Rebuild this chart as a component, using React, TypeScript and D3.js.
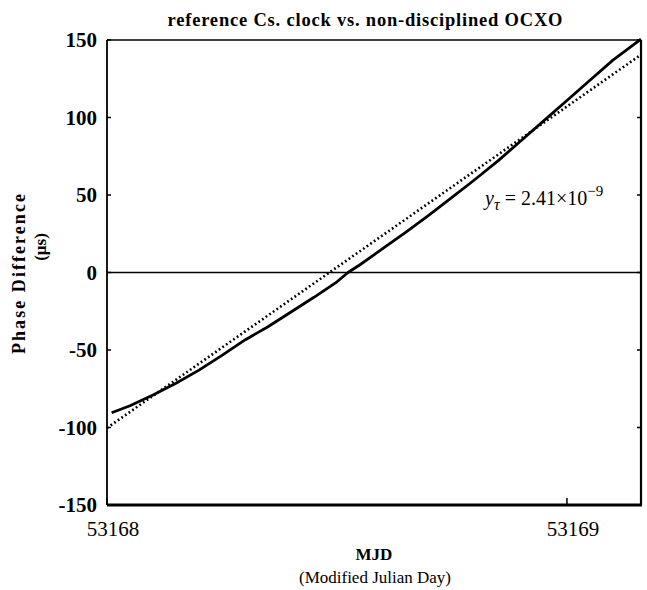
import React from "react";
import * as d3 from "d3";

// Solid curve: phase difference (µs) vs MJD offset (days from 53168)
const phaseT = [0.01, 0.05, 0.1, 0.15, 0.2, 0.25, 0.3, 0.35, 0.4, 0.45, 0.5, 0.524, 0.55, 0.6, 0.65, 0.7, 0.75, 0.8, 0.85, 0.9, 0.95, 1.0, 1.05, 1.1, 1.161];
const phaseVals = [-90.5, -86, -79, -71.5, -63, -53.5, -43.5, -35, -25.5, -16, -6, 0, 5, 15.5, 26, 37, 48.5, 60, 72, 85, 98, 111, 124, 137, 150.5];

// Dotted linear fit endpoints
const fitT = [0, 1.161];
const fitVals = [-100.3, 140.5];

const yTicks = [-150, -100, -50, 0, 50, 100, 150];
const xTicks = [53168, 53169];
const MJD0 = 53168;

export default function App() {
  const x = d3.scaleLinear().domain([53168, 53169.161]).range([107, 641]);
  const y = d3.scaleLinear().domain([-150, 150]).range([505, 40]);

  const line = d3
    .line<[number, number]>()
    .x((d) => x(MJD0 + d[0]))
    .y((d) => y(d[1]));

  const phaseData: [number, number][] = phaseT.map((t, i) => [t, phaseVals[i]]);
  const fitData: [number, number][] = fitT.map((t, i) => [t, fitVals[i]]);

  const serif = "'Liberation Serif', 'Times New Roman', serif";
  const [x0, x1] = x.range();
  const [yb, yt] = y.range();

  return (
    <svg width={647} height={590} style={{ display: "block", position: "absolute", left: 0, top: 0, background: "#fff" }} fontFamily={serif}>
      <rect x={0} y={0} width={647} height={590} fill="#fff" />
      {/* title */}
      <text x={365} y={26} textAnchor="middle" fontSize={18.5} fontWeight="bold" textLength={395} lengthAdjust="spacing">
        reference Cs. clock  vs.  non-disciplined OCXO
      </text>

      {/* zero line */}
      <line x1={x0} x2={x1} y1={y(0)} y2={y(0)} stroke="#000" strokeWidth={1.6} />

      {/* frame */}
      <line x1={x0} x2={x1} y1={yt} y2={yt} stroke="#000" strokeWidth={1.6} />
      <line x1={x0} x2={x0} y1={yt} y2={yb} stroke="#000" strokeWidth={1.8} />
      <line x1={x1} x2={x1} y1={yt} y2={yb} stroke="#000" strokeWidth={2.2} />
      <line x1={x0} x2={x1 + 1} y1={yb} y2={yb} stroke="#000" strokeWidth={3} />

      {/* y ticks */}
      {yTicks.map((v) => (
        <g key={v}>
          <line x1={x0} x2={x0 + 4} y1={y(v)} y2={y(v)} stroke="#000" strokeWidth={1.5} />
          <line x1={x1 - 4} x2={x1} y1={y(v)} y2={y(v)} stroke="#000" strokeWidth={1.5} />
          <text x={97} y={y(v)} dy="0.35em" textAnchor="end" fontSize={21} fontWeight="bold">
            {v < 0 ? "-" + Math.abs(v) : v}
          </text>
        </g>
      ))}

      {/* x ticks */}
      {xTicks.map((v) => (
        <g key={v}>
          <line x1={x(v)} x2={x(v)} y1={yb} y2={yb - 7} stroke="#000" strokeWidth={1.5} />
          <text x={x(v) + 6} y={536} textAnchor="middle" fontSize={21}>
            {v}
          </text>
        </g>
      ))}

      {/* fit line (dotted) */}
      <path d={line(fitData) || ""} fill="none" stroke="#000" strokeWidth={2.6} strokeDasharray="1.8,2.6" />
      {/* phase curve */}
      <path d={line(phaseData) || ""} fill="none" stroke="#000" strokeWidth={2.8} strokeLinejoin="round" />

      {/* annotation */}
      <text x={485} y={205} fontSize={20}>
        <tspan fontStyle="italic">y</tspan>
        <tspan fontSize={16} dy={5} fontStyle="italic">τ</tspan>
        <tspan dy={-5}> = 2.41×10</tspan>
        <tspan fontSize={15} dy={-9}>−9</tspan>
      </text>

      {/* axis labels */}
      <text x={374} y={560} textAnchor="middle" fontSize={17} fontWeight="bold">MJD</text>
      <text x={375} y={583} textAnchor="middle" fontSize={17}>(Modified Julian Day)</text>

      <text transform="translate(25,274) rotate(-90)" textAnchor="middle" fontSize={18} fontWeight="bold" textLength={160} lengthAdjust="spacing">
        Phase  Difference
      </text>
      <text transform="translate(46,247) rotate(-90)" textAnchor="middle" fontSize={17} fontWeight="bold">
        (µs)
      </text>
    </svg>
  );
}
